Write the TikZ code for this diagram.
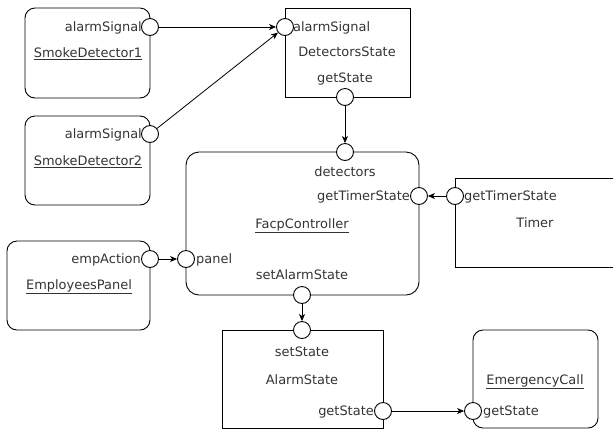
\documentclass[tikz,border=0pt]{standalone}
\usepackage{fontspec}
\setmainfont{DejaVu Sans}
\usetikzlibrary{arrows.meta}
\definecolor{txt}{HTML}{333333}
\tikzset{
  every node/.style={font=\fontsize{13}{15}\selectfont, text=txt},
  sqbox/.style={draw, line width=0.9bp, inner sep=0pt},
  rbox/.style={sqbox, rounded corners=10bp},
  port/.style={circle, draw, fill=white, line width=0.9bp, minimum size=17bp, inner sep=0pt},
  lbl/.style={inner sep=0pt, anchor=base},
  lble/.style={inner sep=0pt, anchor=base east},
  lblw/.style={inner sep=0pt, anchor=base west},
  link/.style={line width=0.8bp, -{Stealth[length=7bp, width=6bp, inset=2bp]}}
}
\begin{document}
\begin{tikzpicture}[x=1bp, y=-1bp]
\useasboundingbox (0,0) rectangle (613,430);
\clip (0,0) rectangle (613,430);

% component boxes
\node[rbox, minimum width=125bp, minimum height=90bp] (sd1box) at (87.5,53) {};
\node[rbox, minimum width=125bp, minimum height=89bp] (sd2box) at (87.5,160.5) {};
\node[sqbox, minimum width=125bp, minimum height=89bp] (dsbox) at (347.5,52.5) {};
\node[rbox, rounded corners=13bp, minimum width=233bp, minimum height=143bp] (fcbox) at (302.5,223.5) {};
\node[sqbox, minimum width=160bp, minimum height=89bp] (tmbox) at (535,222.5) {};
\node[rbox, minimum width=143bp, minimum height=89bp] (epbox) at (78.5,285.5) {};
\node[sqbox, minimum width=161bp, minimum height=98bp] (asbox) at (302.5,379) {};
\node[rbox, minimum width=125bp, minimum height=98bp] (ecbox) at (535.5,379) {};

% names (positions are baselines)
\node[lbl] (sd1name) at (88,57.5) {\underline{SmokeDetector1}};
\node[lbl] (sd2name) at (88,165.5) {\underline{SmokeDetector2}};
\node[lbl] (dsname) at (347,56.5) {DetectorsState};
\node[lbl] (fcname) at (302,228.5) {\underline{FacpController}};
\node[lbl] (tmname) at (535,227.5) {Timer};
\node[lbl] (epname) at (79,289.5) {\underline{EmployeesPanel}};
\node[lbl] (asname) at (302,384.5) {AlarmState};
\node[lbl] (ecname) at (535,384.5) {\underline{EmergencyCall}};

% port labels
\node[lble] (sd1lbl) at (142,31.5) {alarmSignal};
\node[lble] (sd2lbl) at (142,138.5) {alarmSignal};
\node[lblw] (dsinlbl) at (293,31.5) {alarmSignal};
\node[lbl] (dsoutlbl) at (345,82.5) {getState};
\node[lbl] (fcdetlbl) at (345,176.5) {detectors};
\node[lble] (fctimlbl) at (410,200.5) {getTimerState};
\node[lblw] (fcpanlbl) at (196,263.5) {panel};
\node[lbl] (fcsetlbl) at (302,279.5) {setAlarmState};
\node[lblw] (tmlbl) at (464,200.5) {getTimerState};
\node[lble] (eplbl) at (141,263.5) {empAction};
\node[lbl] (asinlbl) at (302,356.5) {setState};
\node[lble] (asoutlbl) at (374,415.5) {getState};
\node[lblw] (eclbl) at (483,415.5) {getState};

% ports
\node[port] (sd1p) at (150,27) {};
\node[port] (sd2p) at (150,134) {};
\node[port] (dsin) at (285,27) {};
\node[port] (dsout) at (345,97) {};
\node[port] (fcdet) at (345,152) {};
\node[port] (fctim) at (419,196) {};
\node[port] (fcpan) at (186,259) {};
\node[port] (fcset) at (302,295) {};
\node[port] (tmp) at (455,196) {};
\node[port] (epp) at (150,259) {};
\node[port] (asin) at (302,330) {};
\node[port] (asout) at (383,411) {};
\node[port] (ecp) at (473,411) {};

% connectors
\draw[link] (sd1p) -- (dsin);
\draw[link] (sd2p) -- (dsin);
\draw[link] (dsout) -- (fcdet);
\draw[link] (tmp) -- (fctim);
\draw[link] (epp) -- (fcpan);
\draw[link] (fcset) -- (asin);
\draw[link] (asout) -- (ecp);
\end{tikzpicture}
\end{document}
